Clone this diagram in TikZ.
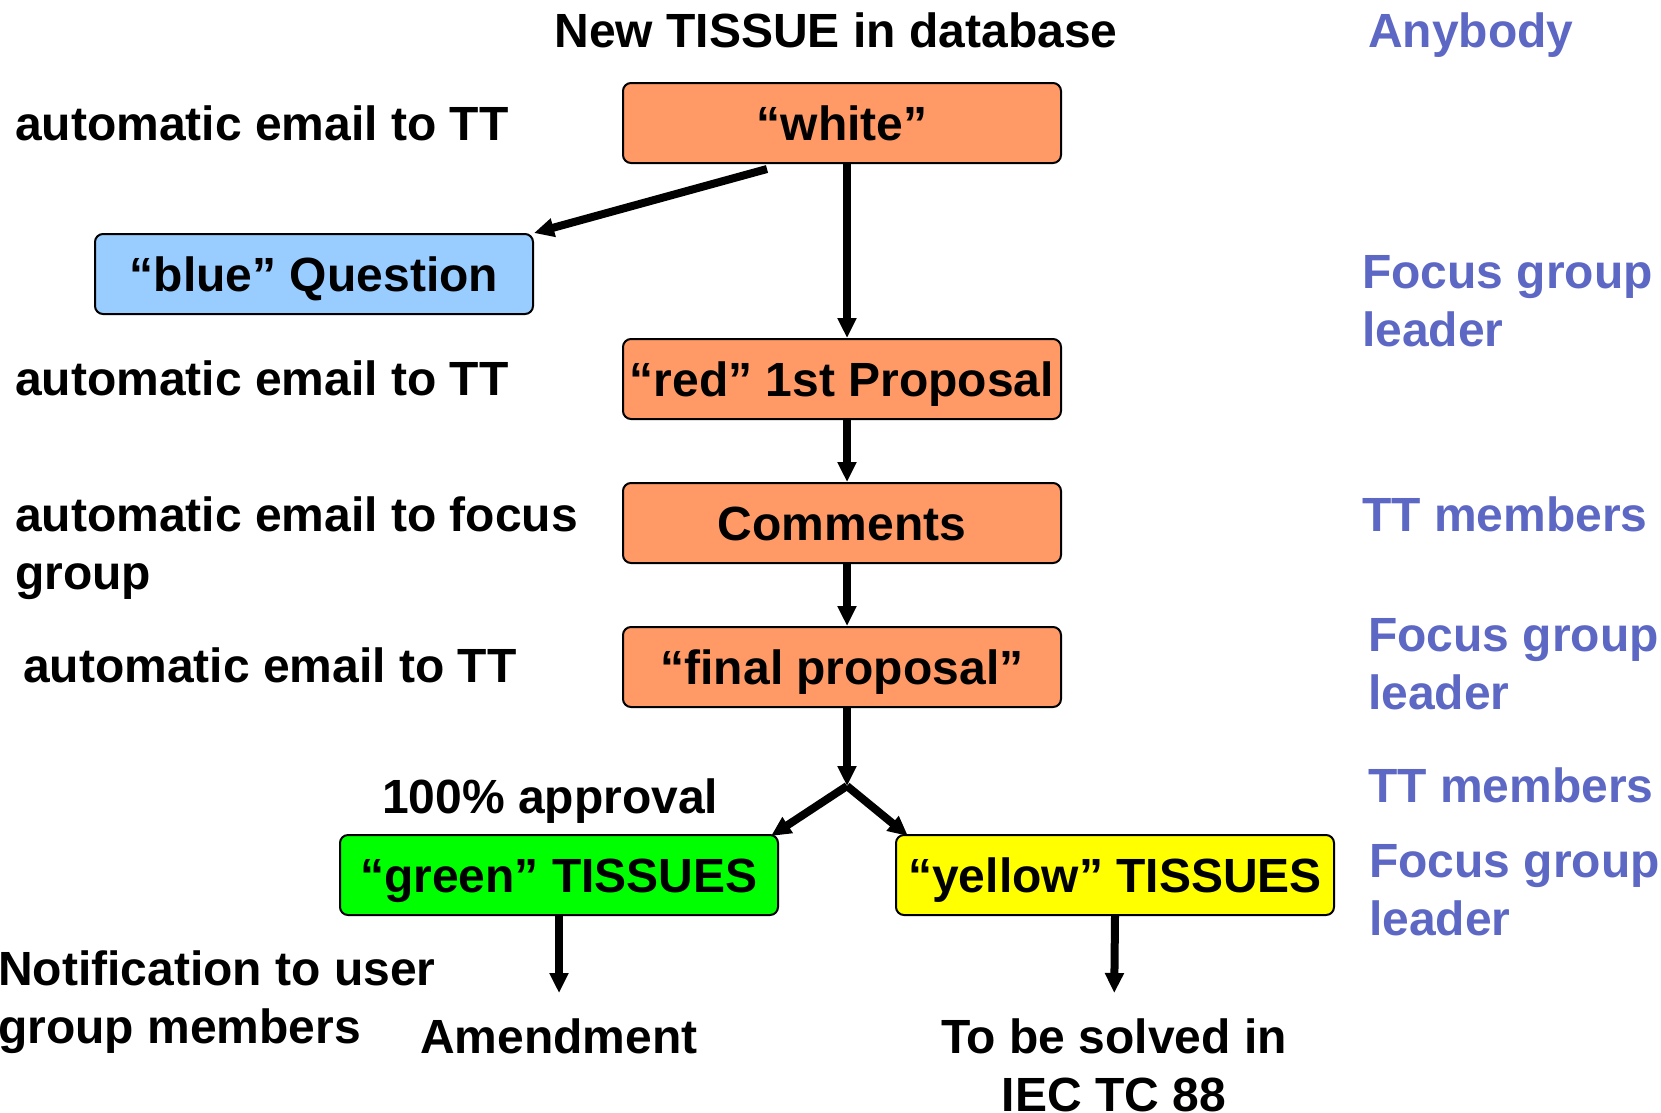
\documentclass[tikz,border=0pt]{standalone}
\usepackage{fontspec}
\setmainfont{Liberation Sans}
\usetikzlibrary{arrows.meta}

\definecolor{boxorange}{HTML}{FF9966}
\definecolor{boxblue}{HTML}{99CCFF}
\definecolor{boxgreen}{HTML}{00FF00}
\definecolor{boxyellow}{HTML}{FFFF00}
\definecolor{rolecolor}{HTML}{5C68C4}

\tikzset{
  bigfont/.style={font=\bfseries\fontsize{48}{58}\selectfont},
  stepbox/.style={draw, line width=2pt, rounded corners=8pt, bigfont,
    minimum width=438pt, minimum height=80pt, inner sep=0pt,
    text height=34pt, text depth=0pt},
  txt/.style={bigfont, inner sep=0pt, align=left},
  role/.style={txt, text=rolecolor},
  flowarrow/.style={line width=8pt, -{Triangle[length=20pt,width=18pt]}}
}

\begin{document}
\begin{tikzpicture}[x=1pt,y=-1pt]
\useasboundingbox (0,0) rectangle (1661,1112);

% boxes
\node[stepbox, fill=boxorange] (white) at (842,123) {“white”};
\node[stepbox, fill=boxblue] (blue) at (314,274) {“blue” Question};
\node[stepbox, fill=boxorange] (red) at (842,379) {“red” 1st Proposal};
\node[stepbox, fill=boxorange] (comments) at (842,523) {Comments};
\node[stepbox, fill=boxorange] (final) at (842,667) {“final proposal”};
\node[stepbox, fill=boxgreen] (green) at (559,875) {“green” TISSUES};
\node[stepbox, fill=boxyellow] (yellow) at (1115,875) {“yellow” TISSUES};

% left texts
\node[txt, anchor=north] (title) at (836,13) {New TISSUE in database};
\node[txt, anchor=north west] (mail1) at (15,106) {automatic email to TT};
\node[txt, anchor=north west] (mail2) at (15,361) {automatic email to TT};
\node[txt, anchor=north west] (mail3) at (15,497) {automatic email to focus\\group};
\node[txt, anchor=north west] (mail4) at (23,648) {automatic email to TT};
\node[txt, anchor=north west] (approval) at (382,779) {100\% approval};
\node[txt, anchor=north west] (notify) at (-2,950) {Notification to user\\group members};
\node[txt, anchor=north] (amend) at (559,1018) {Amendment};
\node[txt, anchor=north, align=center] (solve) at (1114,1018) {To be solved in\\IEC TC 88};

% roles
\node[role, anchor=north west] (anybody) at (1368,13) {Anybody};
\node[role, anchor=north west] (lead1) at (1362,255) {Focus group\\leader};
\node[role, anchor=north west] (tt1) at (1362,497) {TT members};
\node[role, anchor=north west] (lead2) at (1368,618) {Focus group\\leader};
\node[role, anchor=north west] (tt2) at (1368,768) {TT members};
\node[role, anchor=north west] (lead3) at (1369,844) {Focus group\\leader};

% connectors
\coordinate (split) at (847,786);
\coordinate (wq) at (767,169);
\draw[flowarrow] (wq) -- (blue.north east);
\draw[flowarrow] (white.south -| split) -- (red.north -| split);
\draw[flowarrow] (red.south -| split) -- (comments.north -| split);
\draw[flowarrow] (comments.south -| split) -- (final.north -| split);
\draw[flowarrow] (final.south -| split) -- (split);
\draw[flowarrow] (split) -- ([xshift=-8pt,yshift=-2pt]green.north east);
\draw[flowarrow] (split) -- ([xshift=13pt,yshift=-2pt]yellow.north west);
\draw[flowarrow, shorten >=25pt] (green.south) -- (amend.north);
\draw[flowarrow, shorten >=25pt] (yellow.south) -- (solve.north);
\end{tikzpicture}
\end{document}
